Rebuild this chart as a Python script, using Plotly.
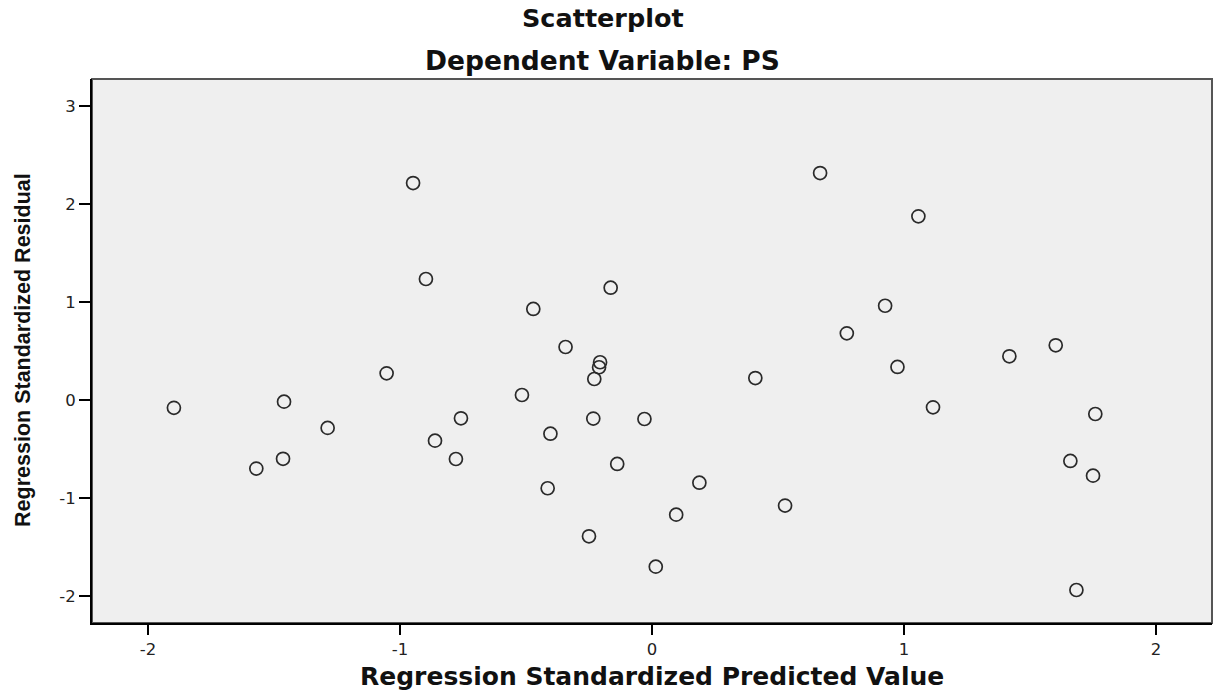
import plotly.graph_objects as go

# Regression standardized predicted value (x) and residual (y)
pred = [-1.897, -1.460, -1.570, -1.464, -1.287, -1.053, -0.948, -0.897, -0.164, -0.471,
        0.773, -0.343, -0.206, -0.210, -0.229, 0.410, -0.516, -0.758, -0.233, -0.030,
        -0.403, -0.861, -0.778, -0.138, 0.188, -0.414, 0.528, 0.096, -0.250, 0.015,
        0.667, 1.057, 0.925, 1.602, 1.418, 0.974, 1.115, 1.759, 1.660, 1.750, 1.684]
resid = [-0.080, -0.017, -0.700, -0.600, -0.285, 0.272, 2.214, 1.235, 1.146, 0.929,
         0.680, 0.541, 0.385, 0.334, 0.214, 0.224, 0.051, -0.187, -0.190, -0.194,
         -0.344, -0.415, -0.602, -0.653, -0.844, -0.901, -1.078, -1.170, -1.391, -1.701,
         2.316, 1.874, 0.962, 0.558, 0.446, 0.337, -0.075, -0.143, -0.622, -0.772, -1.939]

x_tick_vals = [-2, -1, 0, 1, 2]
x_tick_text = ["-2", "-1", "0", "1", "2"]
y_tick_vals = [-2, -1, 0, 1, 2, 3]
y_tick_text = ["-2", "-1", "0", "1", "2", "3"]

title_text = "Scatterplot"
subtitle_text = "Dependent Variable: PS"
x_title = "Regression Standardized Predicted Value"
y_title = "Regression Standardized Residual"

fig = go.Figure()
fig.add_trace(go.Scatter(
    x=pred, y=resid, mode="markers",
    marker=dict(symbol="circle-open", size=13, color="#2a2a2a",
                line=dict(width=1.7, color="#2a2a2a")),
    showlegend=False, hoverinfo="x+y",
))

tick_font = dict(family="DejaVu Sans", size=16.5, color="#222")
fig.update_xaxes(
    range=[-2.222, 2.222], tickvals=x_tick_vals, ticktext=x_tick_text,
    ticks="outside", ticklen=10, tickwidth=1.5, tickcolor="black",
    showline=True, linecolor="black", linewidth=2, showgrid=False, zeroline=False,
    tickfont=tick_font,
)
fig.update_yaxes(
    range=[-2.276, 3.276], tickvals=y_tick_vals, ticktext=y_tick_text,
    ticks="outside", ticklen=11, tickwidth=1.5, tickcolor="black",
    showline=True, linecolor="black", linewidth=2, showgrid=False, zeroline=False,
    tickfont=tick_font,
)

bold = "DejaVu Sans"
fig.update_layout(
    width=1217, height=692,
    margin=dict(l=92, r=5, t=79, b=69),
    paper_bgcolor="white", plot_bgcolor="#efefef",
    shapes=[dict(type="rect", xref="paper", yref="paper", x0=0, x1=1, y0=0, y1=1,
                 line=dict(color="#555", width=2), layer="below")],
    annotations=[
        dict(text="<b>%s</b>" % title_text, xref="paper", yref="paper", x=0.456, y=1.112,
             showarrow=False, xanchor="center", yanchor="middle",
             font=dict(family=bold, size=25.5, color="#111")),
        dict(text="<b>%s</b>" % subtitle_text, xref="paper", yref="paper", x=0.456, y=1.034,
             showarrow=False, xanchor="center", yanchor="middle",
             font=dict(family=bold, size=26.5, color="#111")),
        dict(text="<b>%s</b>" % x_title, xref="paper", yref="paper", x=0.5, y=-0.099,
             showarrow=False, xanchor="center", yanchor="middle",
             font=dict(family=bold, size=25, color="#111")),
        dict(text="<b>%s</b>" % y_title, xref="paper", yref="paper", x=-0.0616, y=0.502,
             showarrow=False, xanchor="center", yanchor="middle", textangle=-90,
             font=dict(family="Liberation Sans", size=21.5, color="#111")),
    ],
)

fig.write_html("out.html", config={"displayModeBar": False},
               post_script="document.body.style.margin='0px';")
